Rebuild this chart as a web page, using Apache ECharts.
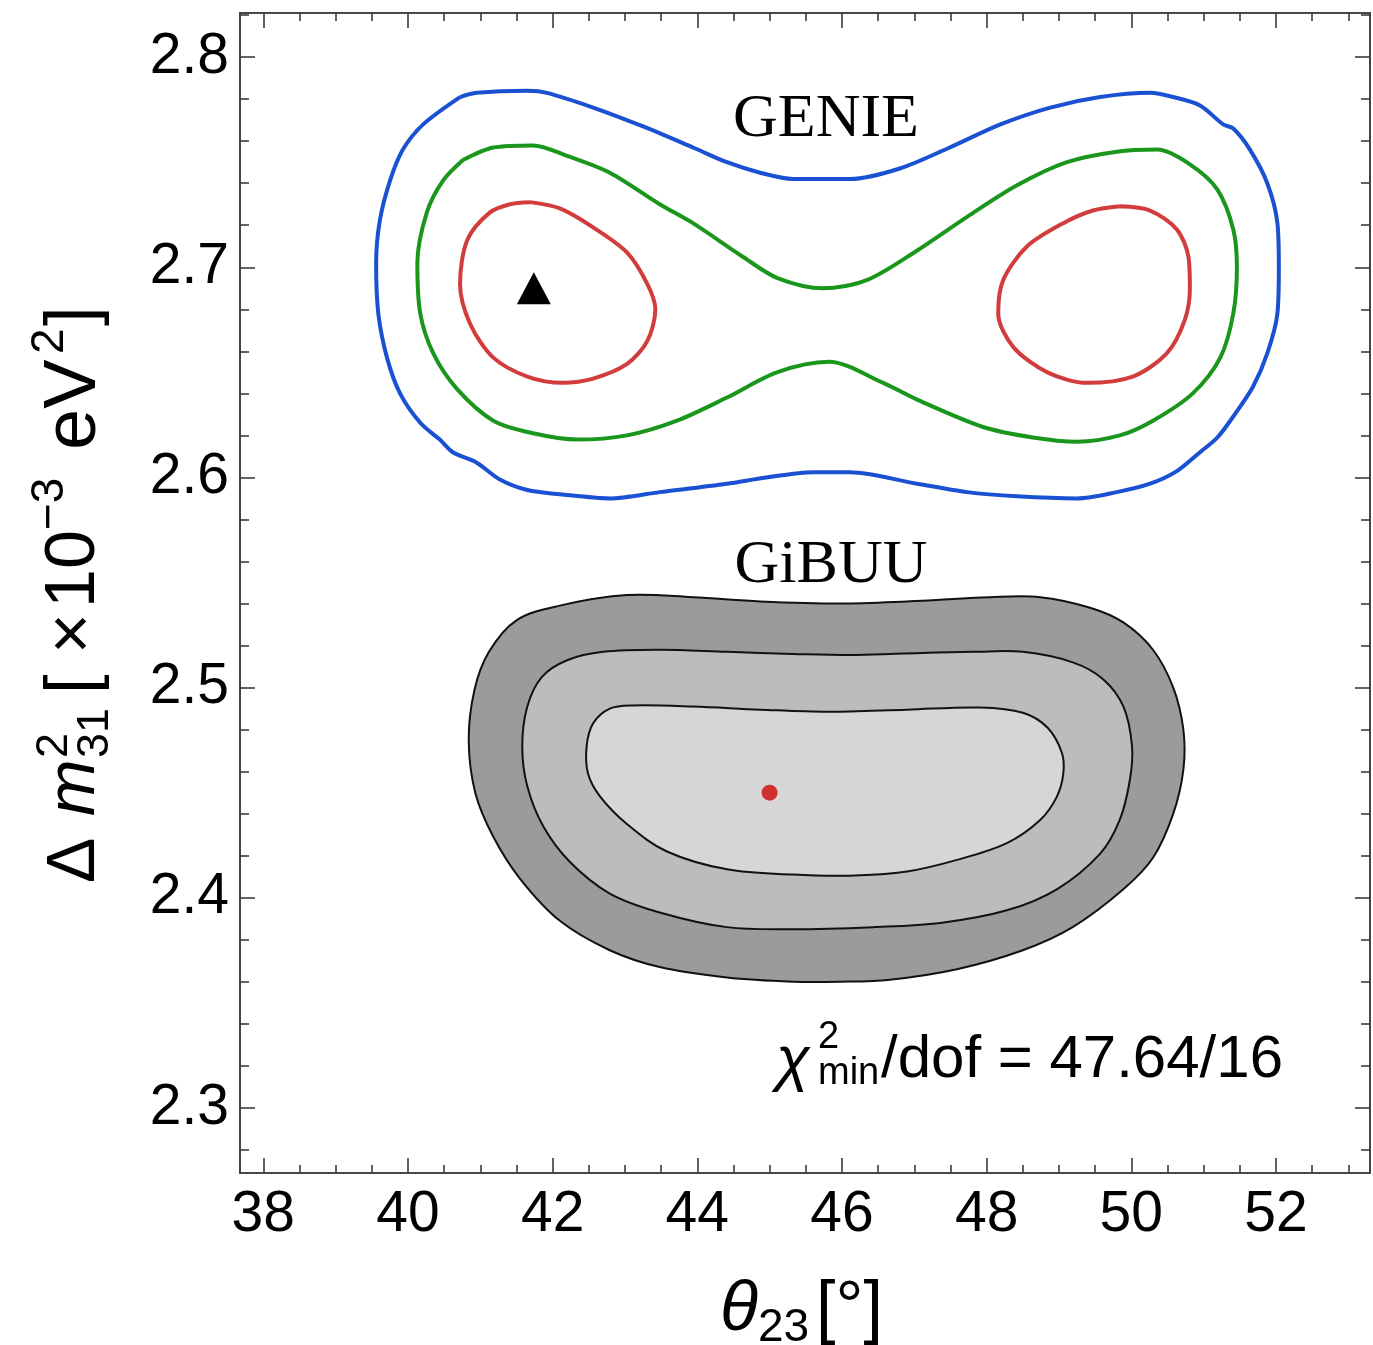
<!DOCTYPE html>
<html>
<head>
<meta charset="utf-8">
<script src="https://cdn.jsdelivr.net/npm/echarts@6/dist/echarts.min.js"></script>
<style>
  html, body { margin: 0; padding: 0; background: #fff; }
  #chart { width: 1373px; height: 1345px; }
</style>
</head>
<body>
<div id="chart"></div>
<script>
// axis ranges and tick labels
const xRange = [37.678, 53.30];
const yRange = [2.269, 2.821];
const xMajor = [38, 40, 42, 44, 46, 48, 50, 52];
const yMajor = [2.3, 2.4, 2.5, 2.6, 2.7, 2.8];

// GENIE contours (theta23 [deg], dm2 [1e-3 eV^2])
const genieBlue = [
  [40.72, 2.781], [40.95, 2.783], [41.65, 2.784], [41.92, 2.783], [42.56, 2.776],
  [43.25, 2.767], [43.94, 2.757], [44.41, 2.750], [44.87, 2.745], [45.32, 2.742],
  [45.79, 2.742], [46.11, 2.742], [46.80, 2.747], [47.49, 2.757], [48.19, 2.768],
  [48.88, 2.776], [49.57, 2.781], [50.26, 2.783], [50.58, 2.781], [50.95, 2.777],
  [51.27, 2.768], [51.41, 2.766], [51.64, 2.756], [51.88, 2.740], [52.02, 2.721],
  [52.04, 2.700], [52.02, 2.678], [51.88, 2.659], [51.68, 2.643], [51.41, 2.629],
  [51.19, 2.619], [50.95, 2.612], [50.63, 2.603], [50.26, 2.597], [49.80, 2.593],
  [49.25, 2.590], [48.42, 2.591], [47.73, 2.593], [47.04, 2.597], [46.11, 2.6025],
  [45.60, 2.6025], [44.95, 2.600], [44.41, 2.597], [43.48, 2.593], [42.79, 2.590],
  [42.10, 2.592], [41.65, 2.594], [41.27, 2.599], [40.95, 2.607], [40.62, 2.612],
  [40.44, 2.618], [40.17, 2.626], [39.89, 2.640], [39.71, 2.657], [39.59, 2.678],
  [39.56, 2.702], [39.61, 2.722], [39.75, 2.741], [39.93, 2.756], [40.21, 2.768]
];
const genieGreen = [
  [40.76, 2.751], [41.18, 2.757], [41.73, 2.758], [42.20, 2.753], [42.79, 2.745],
  [43.48, 2.730], [43.94, 2.721], [44.63, 2.705], [45.10, 2.695], [45.74, 2.690],
  [46.35, 2.694], [47.04, 2.708], [47.73, 2.724], [48.42, 2.739], [49.11, 2.750],
  [49.80, 2.755], [50.36, 2.756], [50.81, 2.749], [51.19, 2.737], [51.41, 2.718],
  [51.46, 2.700], [51.41, 2.678], [51.23, 2.657], [50.85, 2.640], [50.30, 2.627],
  [49.84, 2.620], [49.25, 2.617], [48.64, 2.619], [47.95, 2.624], [47.04, 2.637],
  [46.57, 2.645], [45.82, 2.655], [45.10, 2.650], [44.41, 2.638], [43.72, 2.627],
  [43.03, 2.620], [42.34, 2.618], [41.73, 2.621], [41.18, 2.627], [40.68, 2.642],
  [40.35, 2.659], [40.17, 2.678], [40.13, 2.702], [40.26, 2.726], [40.48, 2.741]
];
const genieRedLeft = [
  [41.69, 2.731], [42.10, 2.728], [42.56, 2.719], [43.03, 2.707], [43.31, 2.692],
  [43.42, 2.680], [43.31, 2.665], [43.03, 2.654], [42.56, 2.647], [42.14, 2.645],
  [41.65, 2.648], [41.18, 2.657], [40.86, 2.673], [40.72, 2.692], [40.82, 2.713],
  [41.13, 2.726], [41.41, 2.730]
];
const genieRedRight = [
  [49.84, 2.729], [50.26, 2.727], [50.63, 2.718], [50.79, 2.705], [50.81, 2.690],
  [50.74, 2.675], [50.49, 2.659], [50.02, 2.648], [49.39, 2.645], [48.84, 2.650],
  [48.37, 2.662], [48.16, 2.678], [48.23, 2.694], [48.56, 2.710], [49.06, 2.721],
  [49.47, 2.727]
];
const genieBest = [[41.74, 2.690]];

// GiBUU filled contours
const gibuuOuter = [
  [42.10, 2.539], [43.03, 2.544], [43.94, 2.543], [44.87, 2.541], [45.97, 2.540],
  [46.90, 2.541], [48.05, 2.543], [48.74, 2.543], [49.43, 2.538], [49.89, 2.531],
  [50.30, 2.518], [50.58, 2.500], [50.72, 2.480], [50.72, 2.461], [50.58, 2.440],
  [50.30, 2.419], [49.89, 2.404], [49.19, 2.386], [48.50, 2.375], [47.59, 2.366],
  [46.66, 2.361], [45.97, 2.360], [45.32, 2.360], [44.41, 2.362], [43.48, 2.367],
  [42.79, 2.375], [42.10, 2.389], [41.55, 2.409], [41.18, 2.429], [40.93, 2.450],
  [40.84, 2.475], [40.92, 2.499], [41.12, 2.517], [41.50, 2.532]
];
const gibuuMiddle = [
  [42.20, 2.513], [42.70, 2.517], [43.48, 2.518], [44.41, 2.517], [45.32, 2.516],
  [46.20, 2.5155], [47.10, 2.5165], [47.81, 2.517], [48.50, 2.517], [49.19, 2.512],
  [49.61, 2.504], [49.89, 2.491], [50.01, 2.472], [49.98, 2.456], [49.84, 2.437],
  [49.57, 2.421], [48.97, 2.404], [48.28, 2.394], [47.36, 2.388], [46.43, 2.386],
  [45.32, 2.385], [44.41, 2.386], [43.48, 2.393], [42.79, 2.402], [42.24, 2.417],
  [41.87, 2.434], [41.65, 2.453], [41.58, 2.472], [41.65, 2.491], [41.85, 2.505]
];
const gibuuInner = [
  [42.79, 2.490], [43.10, 2.4915], [43.94, 2.491], [44.87, 2.4895], [45.80, 2.4885],
  [46.90, 2.4895], [47.91, 2.4905], [48.50, 2.488], [48.84, 2.481], [49.04, 2.469],
  [49.06, 2.459], [48.97, 2.448], [48.74, 2.437], [48.28, 2.426], [47.59, 2.418],
  [46.90, 2.4125], [46.10, 2.4105], [45.32, 2.411], [44.41, 2.4135], [43.58, 2.422],
  [43.03, 2.435], [42.66, 2.448], [42.49, 2.459], [42.47, 2.472], [42.56, 2.483]
];
const gibuuBest = [[45.0, 2.450]];

// minor tick positions
const xMinor = [];
for (let v = 38.5; v < xRange[1]; v += 0.5) {
  if (v % 2 !== 0) xMinor.push(v);
}
const yMinor = [];
for (let i = 114; i <= 141; i++) {
  if (i % 5 !== 0) yMinor.push(+(i * 0.02).toFixed(2));
}

const frameColor = "#3c3c3c";
const labelFont = "Liberation Sans";

function makeXAxis(pos, ticks, len, withLabel) {
  return {
    type: "value",
    position: pos,
    min: xRange[0],
    max: xRange[1],
    axisLine: { show: true, lineStyle: { color: frameColor, width: 1.6 } },
    axisTick: { show: true, inside: true, length: len, customValues: ticks,
      lineStyle: { color: frameColor, width: 1.6 } },
    axisLabel: withLabel
      ? { show: true, customValues: xMajor, fontSize: 57, fontFamily: labelFont,
          color: "#000", margin: 14 }
      : { show: false },
    splitLine: { show: false },
  };
}

function makeYAxis(pos, ticks, len, withLabel) {
  return {
    type: "value",
    position: pos,
    min: yRange[0],
    max: yRange[1],
    axisLine: { show: true, lineStyle: { color: frameColor, width: 1.6 } },
    axisTick: { show: true, inside: true, length: len, customValues: ticks,
      lineStyle: { color: frameColor, width: 1.6 } },
    axisLabel: withLabel
      ? { show: true, customValues: yMajor, fontSize: 57, fontFamily: labelFont,
          color: "#000", margin: 11, formatter: (v) => v.toFixed(1) }
      : { show: false },
    splitLine: { show: false },
  };
}

function contourLine(points, color) {
  return {
    type: "line",
    data: points.concat([points[0]]),
    smooth: 0.3,
    symbol: "none",
    lineStyle: { color: color, width: 4 },
    silent: true,
    z: 3,
  };
}

function filledRegion(points, fill) {
  return {
    type: "custom",
    data: points,
    silent: true,
    z: 2,
    renderItem: function (params, api) {
      if (params.dataIndex !== 0) return null;
      return {
        type: "polygon",
        shape: { points: points.map((p) => api.coord(p)), smooth: 0.35 },
        style: { fill: fill, stroke: "#111", lineWidth: 2 },
      };
    },
  };
}

function txt(x, y, text, font) {
  return { type: "text", x: x, y: y, style: { text: text, font: font, fill: "#000",
    textAlign: "left", textVerticalAlign: "middle" } };
}

const chart = echarts.init(document.getElementById("chart"));

const option = {
  animation: false,
  backgroundColor: "#fff",
  grid: { left: 240, top: 13, right: 3, bottom: 172 },
  xAxis: [
    makeXAxis("bottom", xMajor, 15, true),
    makeXAxis("bottom", xMinor, 8, false),
    makeXAxis("top", xMajor, 15, false),
    makeXAxis("top", xMinor, 8, false),
  ],
  yAxis: [
    makeYAxis("left", yMajor, 15, true),
    makeYAxis("left", yMinor, 9, false),
    makeYAxis("right", yMajor, 15, false),
    makeYAxis("right", yMinor, 9, false),
  ],
  series: [
    filledRegion(gibuuOuter, "#9b9b9b"),
    filledRegion(gibuuMiddle, "#bcbcbc"),
    filledRegion(gibuuInner, "#d6d6d6"),
    contourLine(genieBlue, "#1a50d2"),
    contourLine(genieGreen, "#19961b"),
    contourLine(genieRedLeft, "#d23c3c"),
    contourLine(genieRedRight, "#d23c3c"),
    {
      type: "scatter",
      data: genieBest,
      symbol: "triangle",
      symbolSize: [34, 32],
      itemStyle: { color: "#000", opacity: 1 },
      z: 5,
    },
    {
      type: "scatter",
      data: gibuuBest,
      symbolSize: 16,
      itemStyle: { color: "#d0302f", opacity: 1 },
      z: 5,
    },
  ],
  graphic: [
    { type: "text", x: 826, y: 120, style: { text: "GENIE", font: "62px 'Liberation Serif'",
      fill: "#000", textAlign: "center", textVerticalAlign: "middle" } },
    { type: "text", x: 831, y: 566, style: { text: "GiBUU", font: "62px 'Liberation Serif'",
      fill: "#000", textAlign: "center", textVerticalAlign: "middle" } },
    // chi^2_min/dof annotation
    txt(776, 1062, "χ", "italic 62px 'Liberation Sans'"),
    txt(818, 1038, "2", "38px 'Liberation Sans'"),
    txt(818, 1074, "min", "38px 'Liberation Sans'"),
    txt(881, 1060, "/dof = 47.64/16", "60px 'Liberation Sans'"),
    // x axis title: theta_23 [deg]
    txt(720, 1311, "θ", "italic 70px 'Liberation Sans'"),
    txt(758, 1328, "23", "46px 'Liberation Sans'"),
    txt(816, 1311, "[°]", "70px 'Liberation Sans'"),
    // y axis title, rotated to read bottom-to-top
    {
      type: "group",
      x: 75,
      y: 884,
      rotation: Math.PI / 2,
      children: [
        txt(1, 0, "Δ", "68px 'Liberation Sans'"),
        txt(68, 0, "m", "italic 68px 'Liberation Sans'"),
        txt(126, -20, "2", "45px 'Liberation Sans'"),
        txt(126, 21, "31", "45px 'Liberation Sans'"),
        txt(190, 0, "[", "70px 'Liberation Sans'"),
        txt(230, 0, "×", "70px 'Liberation Sans'"),
        txt(276, 0, "10", "70px 'Liberation Sans'"),
        txt(354, -25, "−3", "46px 'Liberation Sans'"),
        txt(434, 0, "eV", "74px 'Liberation Sans'"),
        txt(530, -25, "2", "46px 'Liberation Sans'"),
        txt(558, 0, "]", "70px 'Liberation Sans'"),
      ],
    },
  ],
};

chart.setOption(option);
</script>
</body>
</html>
